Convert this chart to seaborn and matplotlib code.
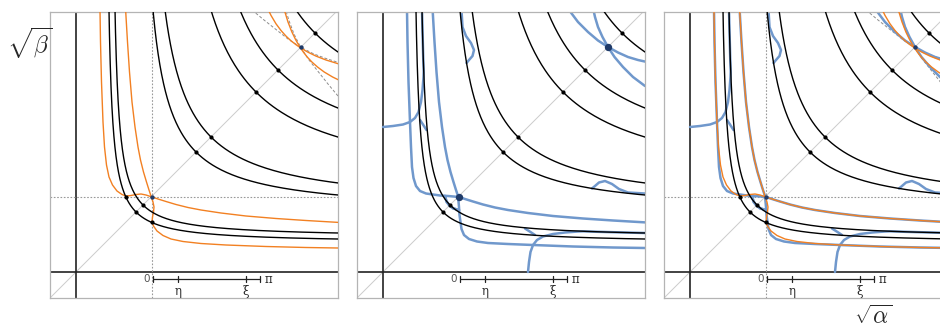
import numpy as np
import matplotlib.pyplot as plt
import seaborn as sns

# all values in pixel-like units measured from the origin of each panel
XLIM = (-26, 262)
YLIM = (-26, 260)

# black level curves: (x - shift)(y - shift) = (diag - shift)^2
black_shift = [28.8, 34.3, 58.3, 62.9, 80.0, 98.0, 130.0]
black_diag = [60, 67, 120, 135, 180, 202, 239]

# orange curve through the centre (its mirror is drawn by swapping axes)
orange_u = [24, 24.5, 25.5, 27, 28.5, 30.5, 33, 36.5, 41, 46, 50, 55, 60, 65, 70, 76,
            82, 90, 100, 112, 125, 145, 170, 200, 230, 264]
orange_v = [262, 230, 190, 150, 125, 107, 95, 87, 81, 77.5, 76, 76.5, 77.5, 78, 77, 75,
            73, 70.5, 67.5, 64.5, 62, 59, 56, 53.5, 51.5, 49.5]

# orange curve through the upper crossing
orange_top_u = [191, 195, 200, 205, 210, 215, 220, 225, 232, 240, 250, 264]
orange_top_v = [264.8, 256.6, 248.2, 241.5, 235.9, 231.2, 227.3, 223.8, 219.8, 215.9, 212, 207.7]

# grey dashed reference curve at the upper crossing
grey_u = [176, 188, 200, 212, 225, 238, 250, 264]
grey_v = [262, 252, 242.5, 233, 224.5, 218, 213.5, 209]

# blue curves
blue_main_u = [24, 24.5, 25.5, 27, 28, 29, 30.5, 33, 37, 43, 50, 57, 65, 76,
               82, 90, 100, 112, 125, 145, 170, 200, 230, 264]
blue_main_v = [262, 230, 190, 150, 125, 105, 94, 86, 81, 78.5, 77.5, 76.5, 76, 75,
               73, 70.5, 67.5, 64.5, 62, 59, 56, 53.5, 51.5, 49.5]
blue_arc_u = [62, 63.5, 67, 71, 76]
blue_arc_v = [76, 70, 66, 63.5, 62]
blue_side_u = [0, 10, 20, 27, 32, 35.5, 38, 39.5, 40.5, 40.7, 40.2, 39.8, 39.0]
blue_side_v = [145, 146, 147.5, 150, 154, 160, 170, 182, 195, 200, 215, 230, 262]
blue_step_u = [37.0, 40.0, 43.5]
blue_step_v = [152, 147.5, 142]
blue_kink_u = [78.5, 79.5, 83, 88, 91, 89.5, 86, 83.5]
blue_kink_v = [262, 245, 236, 229, 222, 216, 212, 209]
blue_top_u = [186, 195, 205, 215, 225, 235, 245, 255, 264]
blue_top_v = [262, 250, 240, 231.5, 225, 219.5, 215, 212, 210]

# marked points
centre = 75.5
upper_cross = 225
orange_hits = [50, 75.5]

# scale bar below the axis
bar_pos = [77.3, 102.3, 170, 184]
bar_labels = ['0', 'η', 'ξ', 'π']

ORANGE = '#f28022'
BLUE = '#7098cc'
NAVY = '#1f3a68'

sns.set_theme(style='white')
plt.rcParams['mathtext.fontset'] = 'cm'


def line(ax, u, v, color, lw, z, swap=False, ls='-'):
    if swap:
        u, v = v, u
    sns.lineplot(x=np.asarray(u, float), y=np.asarray(v, float), sort=False,
                 estimator=None, color=color, linewidth=lw, linestyle=ls,
                 zorder=z, ax=ax, legend=False)


def draw_panel(ax, orange, blue):
    ax.set_xlim(*XLIM)
    ax.set_ylim(*YLIM)
    ax.set_xticks([])
    ax.set_yticks([])
    for s in ax.spines.values():
        s.set_color('#b4b4b4')
        s.set_linewidth(0.9)

    ax.plot([-30, 270], [-30, 270], color='#cccccc', lw=0.7, zorder=1)
    ax.axvline(0, color='#222222', lw=1.2, zorder=1)
    ax.axhline(0, color='#222222', lw=1.2, zorder=1)
    if orange:
        ax.axvline(centre, color='#999999', lw=0.8, ls=(0, (1.5, 1.5)), zorder=1)
        ax.axhline(centre, color='#999999', lw=0.8, ls=(0, (1.5, 1.5)), zorder=1)
        for sw in (False, True):
            line(ax, grey_u, grey_v, '#8c8c8c', 0.7, 1.5, sw, ls=(0, (3, 2)))

    if blue:
        for sw in (False, True):
            line(ax, blue_main_u, blue_main_v, BLUE, 1.8, 2, sw)
            line(ax, blue_arc_u, blue_arc_v, BLUE, 1.8, 2, sw)
            line(ax, blue_side_u, blue_side_v, BLUE, 1.8, 2, sw)
            line(ax, blue_step_u, blue_step_v, BLUE, 1.8, 2, sw)
            line(ax, blue_kink_u, blue_kink_v, BLUE, 1.8, 2, sw)
            line(ax, blue_top_u, blue_top_v, BLUE, 1.8, 2, sw)

    if orange:
        for sw in (False, True):
            line(ax, orange_u, orange_v, ORANGE, 1.0, 3, sw)
            line(ax, orange_top_u, orange_top_v, ORANGE, 1.0, 3, sw)

    t = np.linspace(-3.5, 3.5, 600)
    for a, d in zip(black_shift, black_diag):
        c = d - a
        line(ax, a + c * np.exp(t), a + c * np.exp(-t), 'black', 1.0, 4)

    sns.scatterplot(x=black_diag, y=black_diag, s=9, color='black', linewidth=0,
                    zorder=5, ax=ax, legend=False)
    if orange:
        sns.scatterplot(x=orange_hits, y=orange_hits[::-1], s=9, color='black',
                        linewidth=0, zorder=5, ax=ax, legend=False)
    big = 28 if (blue and not orange) else 10
    sns.scatterplot(x=[centre, upper_cross], y=[centre, upper_cross], s=big, color=NAVY,
                    linewidth=0, zorder=6, ax=ax, legend=False)

    # scale bar
    yb = -7.3
    ax.plot([bar_pos[0], bar_pos[-1]], [yb, yb], color='#222222', lw=0.9, zorder=4)
    for p in bar_pos:
        ax.plot([p, p], [yb - 3, yb + 3], color='#222222', lw=0.9, zorder=4)
    ax.text(bar_pos[0] - 3, yb, bar_labels[0], ha='right', va='center', fontsize=7.5,
            color='#555555')
    for p, lab in zip(bar_pos[1:3], bar_labels[1:3]):
        ax.text(p, yb - 6, lab, ha='center', va='top', fontsize=8.5,
                family='DejaVu Serif', color='#222222')
    ax.text(bar_pos[-1] + 5, yb, bar_labels[3], ha='left', va='center', fontsize=8.5,
            family='DejaVu Serif', color='#222222')


fig = plt.figure(figsize=(9.4, 3.29), dpi=100)
W, H = 940, 329
lefts = [50, 357, 664]
modes = [(True, False), (False, True), (True, True)]
for left, (o, b) in zip(lefts, modes):
    ax = fig.add_axes([left / W, (H - 298) / H, 288 / W, 286 / H])
    draw_panel(ax, o, b)

fig.text(30 / W, 1 - 43 / H, r'$\sqrt{\beta}$', fontsize=17, ha='center', va='center')
fig.text(873 / W, 1 - 317 / H, r'$\sqrt{\alpha}$', fontsize=17, ha='center', va='center')

fig.savefig('out.png', dpi=100)
